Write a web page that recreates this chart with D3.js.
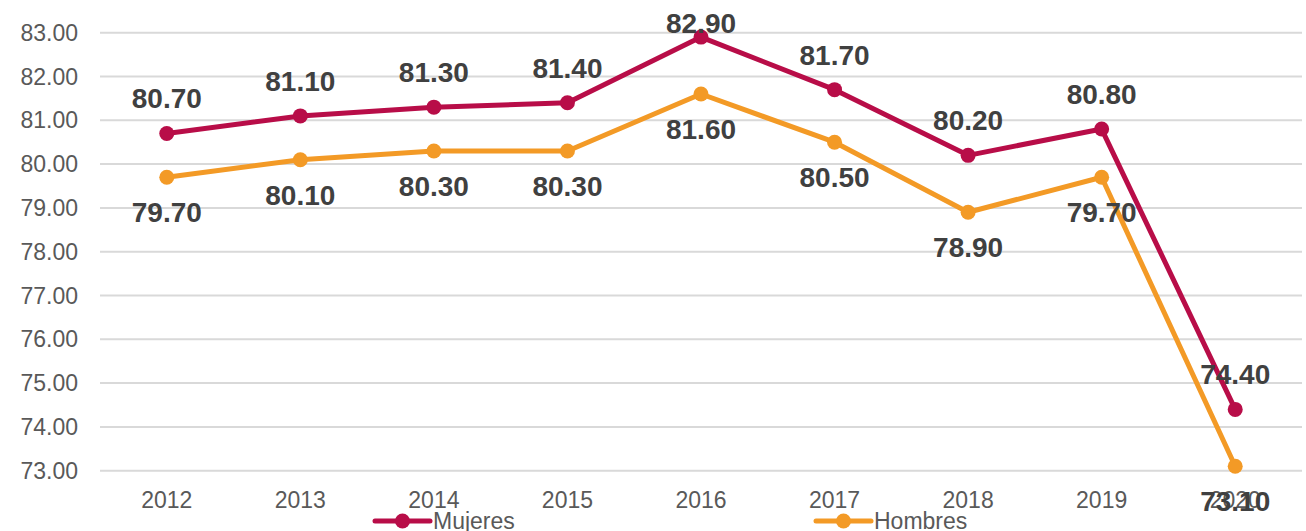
<!DOCTYPE html>
<html>
<head>
<meta charset="utf-8">
<script src="https://cdn.jsdelivr.net/npm/d3@7"></script>
<style>
html,body{margin:0;padding:0;background:#fff;}
svg{display:block;font-family:"Liberation Sans",Arial,sans-serif;}
</style>
</head>
<body>
<svg id="chart" width="1306" height="531"></svg>
<script>
const years = ["2012","2013","2014","2015","2016","2017","2018","2019","2020"];
const mujeres = [80.7, 81.1, 81.3, 81.4, 82.9, 81.7, 80.2, 80.8, 74.4];
const hombres = [79.7, 80.1, 80.3, 80.3, 81.6, 80.5, 78.9, 79.7, 73.1];
const yTicks = [73,74,75,76,77,78,79,80,81,82,83];
const seriesNames = ["Mujeres","Hombres"];
const colors = ["#B80D48","#F39A26"];

const svg = d3.select("#chart");
const x = d3.scaleBand().domain(years).range([100, 1302]);
const y = d3.scaleLinear().domain([73, 83]).range([470.7, 32.7]);
const cx = d => x(d) + x.bandwidth()/2;

// gridlines
svg.append("g").selectAll("line").data(yTicks).join("line")
  .attr("x1", 100).attr("x2", 1302)
  .attr("y1", d => y(d)).attr("y2", d => y(d))
  .attr("stroke", "#d9d9d9").attr("stroke-width", 2);

// y labels
svg.append("g").selectAll("text").data(yTicks).join("text")
  .attr("x", 78).attr("y", d => y(d)).attr("dy", "0.35em")
  .attr("text-anchor", "end").attr("font-size", 23).attr("fill", "#595959")
  .text(d => d.toFixed(2));

// x labels
svg.append("g").selectAll("text").data(years).join("text")
  .attr("x", d => cx(d)).attr("y", 508)
  .attr("text-anchor", "middle").attr("font-size", 23).attr("fill", "#595959")
  .text(d => d);

const series = [mujeres, hombres];
const line = d3.line().x((d,i) => cx(years[i])).y(d => y(d));

series.forEach((vals, si) => {
  const g = svg.append("g");
  g.append("path").datum(vals).attr("d", line)
    .attr("fill", "none").attr("stroke", colors[si]).attr("stroke-width", 5)
    .attr("stroke-linejoin", "round");
  g.selectAll("circle").data(vals).join("circle")
    .attr("cx", (d,i) => cx(years[i])).attr("cy", d => y(d)).attr("r", 7.5)
    .attr("fill", colors[si]);
});

// data labels
series.forEach((vals, si) => {
  svg.append("g").selectAll("text").data(vals).join("text")
    .attr("x", (d,i) => cx(years[i]))
    .attr("y", d => si === 0 ? Math.max(y(d) - 25, 33) : y(d) + 45)
    .attr("text-anchor", "middle").attr("font-size", 28).attr("font-weight", "bold")
    .attr("fill", "#404040")
    .text(d => d.toFixed(2));
});

// legend
const legendX = [375, 816];
seriesNames.forEach((name, i) => {
  const g = svg.append("g");
  g.append("line").attr("x1", legendX[i]).attr("x2", legendX[i] + 55)
    .attr("y1", 521).attr("y2", 521)
    .attr("stroke", colors[i]).attr("stroke-width", 5).attr("stroke-linecap", "round");
  g.append("circle").attr("cx", legendX[i] + 27.5).attr("cy", 521).attr("r", 7.5).attr("fill", colors[i]);
  g.append("text").attr("x", legendX[i] + 58).attr("y", 529)
    .attr("font-size", 23).attr("fill", "#595959").text(name);
});
</script>
</body>
</html>
